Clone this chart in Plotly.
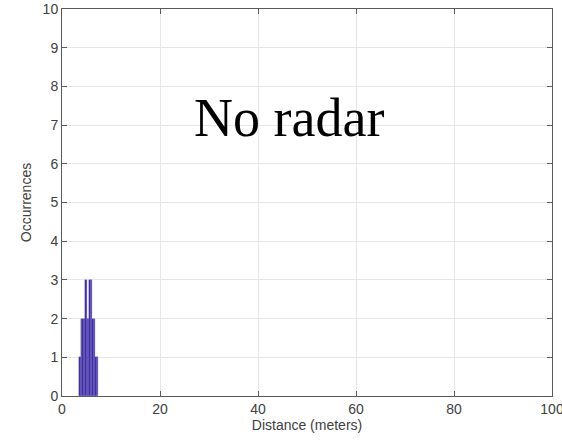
import plotly.graph_objects as go

# Histogram of measured distances (bin edges in meters, counts per bin)
bin_edges = [3.5, 3.8, 4.1, 4.4, 4.7, 5.0, 5.3, 5.6, 5.9, 6.2, 6.5, 6.8, 7.1, 7.35]
counts = [1, 2, 2, 2, 3, 2, 2, 3, 3, 2, 2, 1, 1]

x_ticks = [0, 20, 40, 60, 80, 100]
y_ticks = list(range(0, 11))

centers = [(a + b) / 2 for a, b in zip(bin_edges[:-1], bin_edges[1:])]
widths = [b - a for a, b in zip(bin_edges[:-1], bin_edges[1:])]

fig = go.Figure()
fig.add_trace(go.Bar(
    x=centers, y=counts, width=widths,
    marker=dict(color="rgb(58,40,158)",
                line=dict(color="rgba(120,108,205,0.8)", width=0.4)),
    showlegend=False,
))

label_font = dict(family="Liberation Sans, Arial", size=14, color="#404040")

axis_common = dict(
    showline=True, linecolor="#5a5a5a", linewidth=1, mirror="ticks",
    ticks="inside", ticklen=5, tickcolor="#5a5a5a",
    showgrid=True, gridcolor="#e6e6e6", gridwidth=1,
    zeroline=False, ticklabeloverflow="allow", automargin=False,
    tickfont=label_font,
)

fig.update_layout(
    width=562, height=444,
    margin=dict(l=62, r=10, t=9, b=48),
    paper_bgcolor="white", plot_bgcolor="white",
    bargap=0,
    xaxis=dict(range=[0, 100], tickvals=x_ticks,
               title=dict(text="Distance (meters)", standoff=3, font=label_font),
               **axis_common),
    yaxis=dict(range=[0, 10], tickvals=y_ticks,
               title=dict(text="Occurrences", standoff=7, font=label_font),
               **axis_common),
    annotations=[dict(
        x=46.3, y=7.18, xref="x", yref="y", text="No radar", showarrow=False,
        font=dict(family="Liberation Serif, DejaVu Serif", size=54, color="black"),
    )],
)

fig.write_html("out.html")
